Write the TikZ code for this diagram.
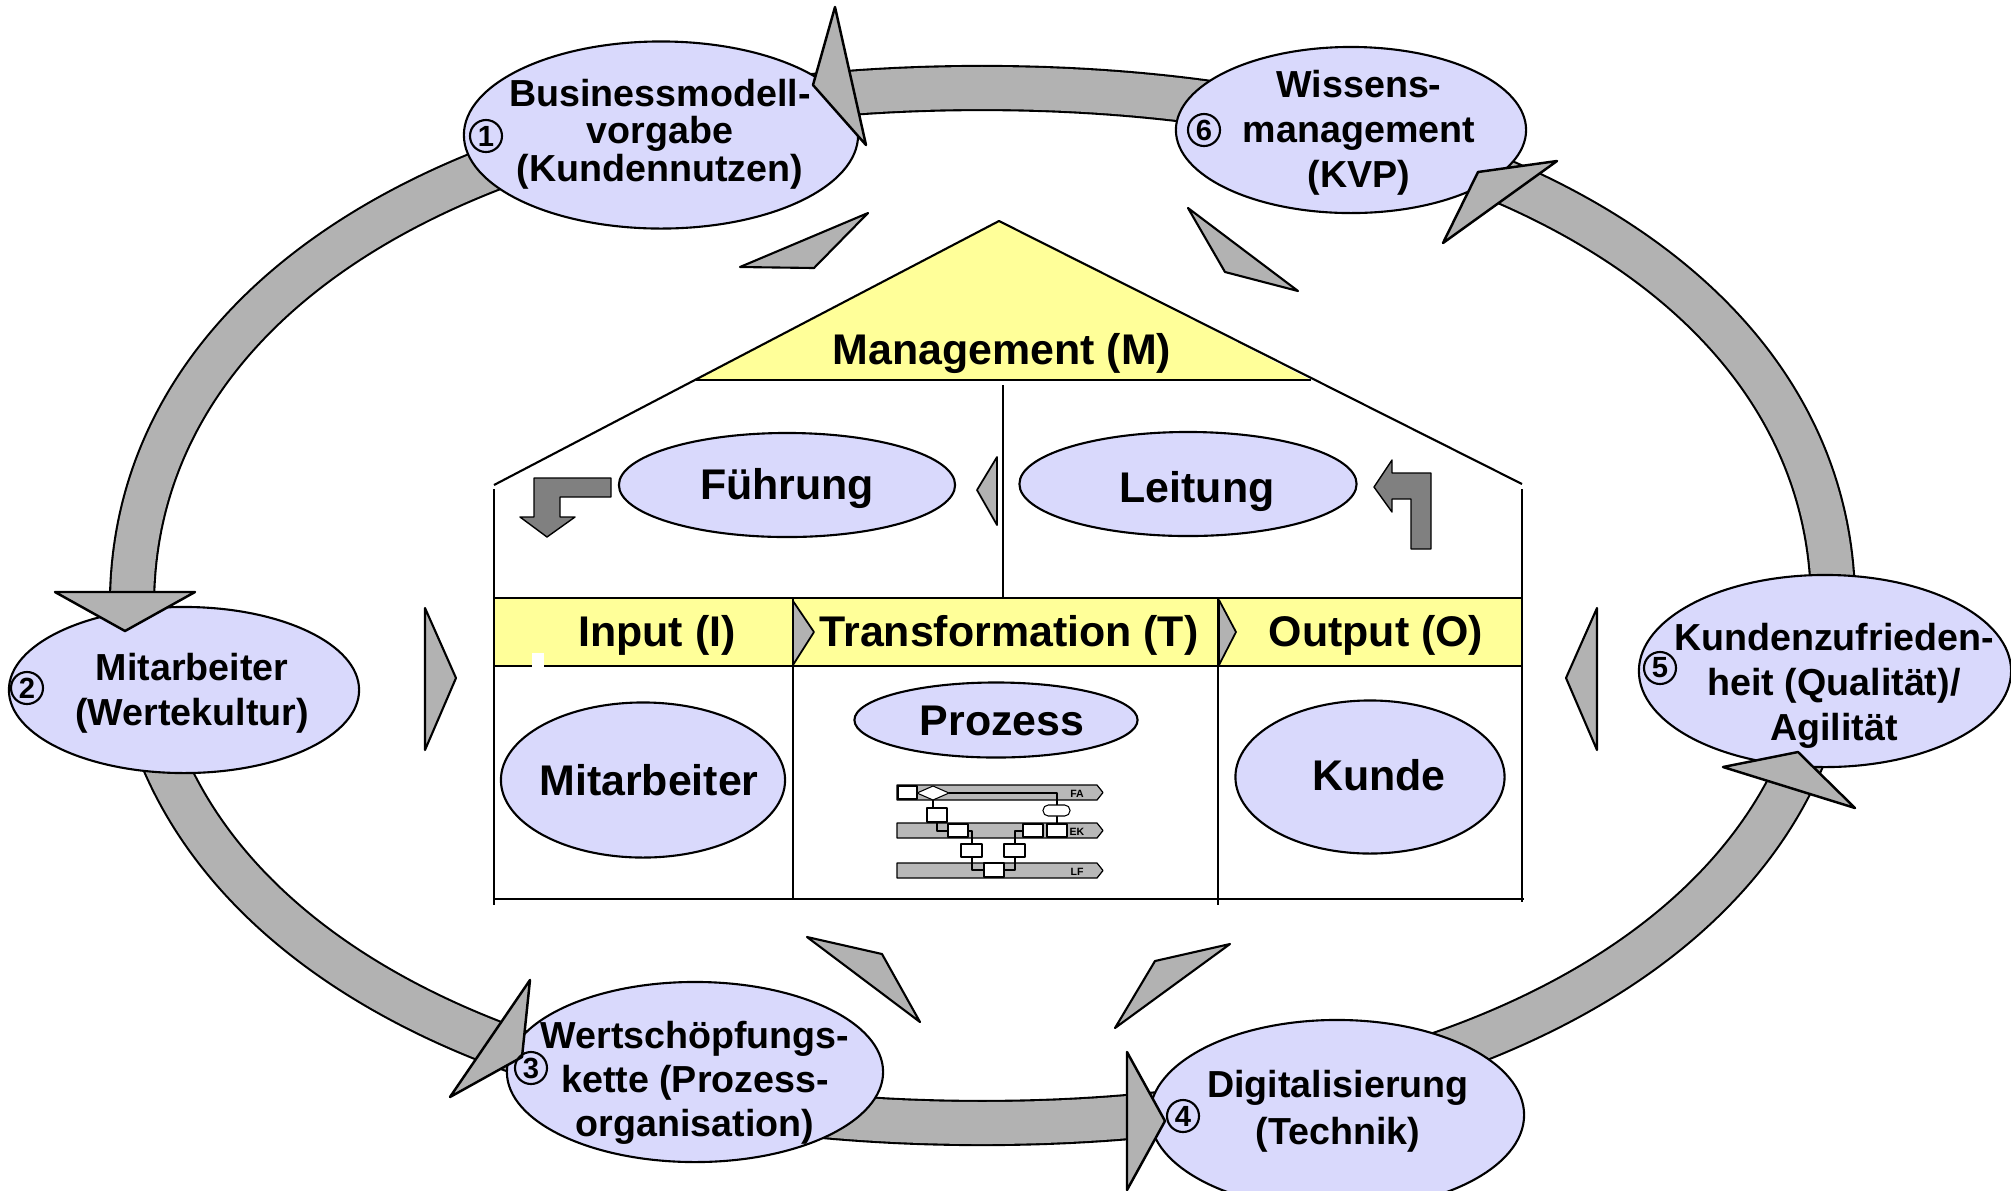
\documentclass[tikz,border=0pt]{standalone}
\usepackage{fontspec}
\setmainfont{Liberation Sans}
\usetikzlibrary{shapes.geometric,arrows.meta}

\definecolor{lavender}{RGB}{217,217,252}
\definecolor{roofyellow}{RGB}{255,255,153}
\definecolor{bandgray}{RGB}{178,178,178}
\definecolor{bentgray}{RGB}{128,128,128}

\begin{document}
\begin{tikzpicture}[
  x=0.01cm, y=-0.01cm,
  line join=round,
  font=\bfseries,
  band/.style={draw=black, line width=0.6pt, double=bandgray, double distance=0.42cm},
  bubble/.style={ellipse, draw=black, line width=0.6pt, fill=lavender, inner sep=0pt},
  outertext/.style={align=center, inner sep=0pt, font=\bfseries\fontsize{10.7}{#1}\selectfont},
  outertext/.default=12.8pt,
  innertext/.style={inner sep=0pt, font=\bfseries\fontsize{12.2}{14}\selectfont},
  num/.style={circle, draw=black, line width=0.6pt, inner sep=0pt, minimum size=0.32cm,
    font=\bfseries\fontsize{8.3}{9}\selectfont},
  head/.style={draw=black, line width=0.7pt, fill=bandgray},
  wedge/.style={draw=black, line width=0.6pt, fill=bandgray},
  bent/.style={draw=black, line width=0.4pt, fill=bentgray},
  wall/.style={draw=black, line width=0.6pt},
  lane/.style={draw=black, line width=0.35pt, fill=black!28},
  minibox/.style={draw=black, line width=0.3pt, fill=white},
  miniline/.style={draw=black, line width=0.3pt},
  lanelabel/.style={inner sep=0pt, font=\bfseries\fontsize{3}{3}\selectfont}
]
\useasboundingbox (0,0) rectangle (2011,1190);

% Cycle band behind the six bubbles.
\draw[band] (132,605) .. controls (132,295) and (472,88) .. (982,88)
  .. controls (1492,88) and (1833,295) .. (1833,605)
  .. controls (1833,915) and (1492,1123) .. (982,1123)
  .. controls (472,1123) and (132,915) .. (132,605) -- cycle;

% Outer bubbles.
\node[bubble, minimum width=3.94cm, minimum height=1.87cm] (bm) at (661,135) {};
\node[bubble, minimum width=3.5cm, minimum height=1.66cm] (wm) at (1351,130) {};
\node[bubble, minimum width=3.5cm, minimum height=1.66cm] (ma) at (184,690) {};
\node[bubble, minimum width=3.72cm, minimum height=1.92cm] (kz) at (1825,671) {};
\node[bubble, minimum width=3.76cm, minimum height=1.8cm] (ws) at (695,1072) {};
\node[bubble, minimum width=3.74cm, minimum height=1.9cm] (dg) at (1337,1115) {};

% Arrow heads on the band.
\draw[head] (835,7) -- (813,85) -- (866,145) -- cycle;
\draw[head] (55,592) -- (195,592) -- (125,631) -- cycle;
\draw[head] (530,980) -- (522,1057) -- (450,1097) -- cycle;
\draw[head] (1127,1052) -- (1165,1121) -- (1127,1190) -- cycle;
\draw[head] (1723,767) -- (1798,752) -- (1855,808) -- cycle;
\draw[head] (1557,161) -- (1478,172) -- (1443,243) -- cycle;

% Bubble texts and step numbers.
\node[outertext=10.6pt] (bmText) at (660,134) {Businessmodell-\\vorgabe\\(Kundennutzen)};
\node[outertext] (wmText) at (1359,133) {Wissens-\\management\\(KVP)};
\node[outertext] (maText) at (192,693) {Mitarbeiter\\(Wertekultur)};
\node[outertext] (kzText) at (1834,686) {Kundenzufrieden-\\heit (Qualität)/\\Agilität};
\node[outertext=12.6pt] (wsText) at (695,1083) {Wertschöpfungs-\\kette (Prozess-\\organisation)};
\node[outertext=13.4pt] (dgText) at (1338,1111) {Digitalisierung\\(Technik)};

\node[num] (n1) at (486,136) {1};
\node[num] (n2) at (27,688) {2};
\node[num] (n3) at (531,1068) {3};
\node[num] (n4) at (1183,1116) {4};
\node[num] (n5) at (1660,668) {5};
\node[num] (n6) at (1204,130) {6};

% Wedges pointing at the house.
\draw[wedge] (740,267) -- (868,213) -- (814,268) -- cycle;
\draw[wedge] (1188,208) -- (1298,291) -- (1225,272) -- cycle;
\draw[wedge] (425,608) -- (456,678) -- (425,750) -- cycle;
\draw[wedge] (1597,608) -- (1566,678) -- (1597,750) -- cycle;
\draw[wedge] (807,937) -- (882,954) -- (920,1022) -- cycle;
\draw[wedge] (1230,944) -- (1155,961) -- (1115,1028) -- cycle;

% House: roof, walls and columns.
\fill[roofyellow] (999,221) -- (1311,380) -- (696,380) -- cycle;
\draw[wall] (494,485) -- (999,221) -- (1522,484);
\draw[wall] (696,380) -- (1311,380);
\node[innertext] (mgmt) at (1002,353) {Management (M)};
\draw[wall] (494,489) -- (494,905);
\draw[wall] (1522,489) -- (1522,902);
\draw[wall] (1003,385) -- (1003,598);
\draw[wall, fill=roofyellow] (494,598) rectangle (1522,666);
\draw[wall] (793,598) -- (793,899);
\draw[wall] (1218,598) -- (1218,905);
\draw[wall] (494,899) -- (1524,899);
\fill[white] (532,653) rectangle (544,668);

% Band chevrons.
\draw[wedge, line width=0.5pt] (793,601) -- (814,632) -- (793,665) -- cycle;
\draw[wedge, line width=0.5pt] (1219,600) -- (1236,632) -- (1219,665) -- cycle;
\draw[wedge, line width=0.5pt] (977,490) -- (997,457) -- (997,525) -- cycle;

% Upper floor.
\node[bubble, minimum width=3.36cm, minimum height=1.04cm] (fu) at (787,485) {};
\node[innertext] (fuText) at (787,488) {Führung};
\node[bubble, minimum width=3.37cm, minimum height=1.04cm] (le) at (1188,484) {};
\node[innertext] (leText) at (1197,491) {Leitung};
\draw[bent] (611,478) -- (534,478) -- (534,517) -- (520,517) -- (547,537)
  -- (575,517) -- (560,517) -- (560,497) -- (611,497) -- cycle;
\draw[bent] (1431,549) -- (1431,473) -- (1392,473) -- (1392,460) -- (1374,487)
  -- (1392,512) -- (1392,499) -- (1411,499) -- (1411,549) -- cycle;

% Input / transformation / output.
\node[innertext] (inText) at (657,635) {Input (I)};
\node[innertext] (trText) at (1009,635) {Transformation (T)};
\node[innertext] (ouText) at (1376,635) {Output (O)};
\node[bubble, minimum width=2.84cm, minimum height=1.55cm] (mi) at (643,780) {};
\node[innertext] (miText) at (649,780) {Mitarbeiter};
\node[bubble, minimum width=2.83cm, minimum height=0.75cm] (pr) at (996,720) {};
\node[innertext] (prText) at (1002,721) {Prozess};
\node[bubble, minimum width=2.69cm, minimum height=1.53cm] (ku) at (1370,777) {};
\node[innertext] (kuText) at (1379,775) {Kunde};

% Small swimlane chart.
\foreach \y/\lbl in {785/FA,823/EK,863/LF}{
  \draw[lane] (897,\y) -- (1097,\y) -- (1103,\y+7.5) -- (1097,\y+15) -- (897,\y+15) -- cycle;
  \node[lanelabel] (lane\lbl) at (1077,\y+9) {\lbl};
}
\draw[miniline] (949,793) -- (1057,793) -- (1057,805);
\draw[miniline] (1057,816) -- (1057,824);
\draw[miniline] (933,800) -- (933,808);
\draw[miniline] (937,822) -- (937,831) -- (948,831);
\draw[miniline] (968,831) -- (972,831) -- (972,844);
\draw[miniline] (972,857) -- (972,870) -- (984,870);
\draw[miniline] (1004,870) -- (1015,870) -- (1015,857);
\draw[miniline] (1015,844) -- (1015,831) -- (1023,831);
\draw[minibox] (898,786) rectangle (917,799);
\draw[minibox] (917,793) -- (933,786) -- (949,793) -- (933,800) -- cycle;
\draw[minibox] (927,808) rectangle (947,822);
\draw[minibox, rounded corners=1.5pt] (1043,805) rectangle (1070,816);
\draw[minibox] (948,824) rectangle (968,837);
\draw[minibox] (1023,824) rectangle (1043,837);
\draw[minibox] (1047,824) rectangle (1067,837);
\draw[minibox] (961,844) rectangle (982,857);
\draw[minibox] (1004,844) rectangle (1025,857);
\draw[minibox] (984,863) rectangle (1004,877);

\end{tikzpicture}
\end{document}
